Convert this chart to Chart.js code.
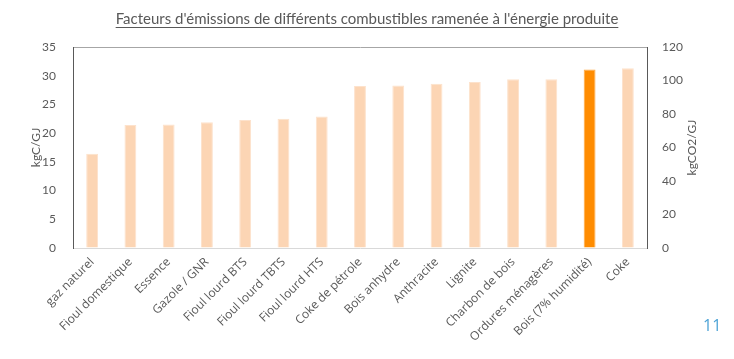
<!DOCTYPE html>
<html>
<head>
<meta charset="utf-8">
<script src="https://cdn.jsdelivr.net/npm/chart.js@4"></script>
<style>
  body { margin: 0; background: #fff; }
  #wrap { position: relative; width: 734px; height: 359px; }
  #page { position: absolute; left: 703px; top: 314px; font: 16px "Open Sans", sans-serif; color: #4da3d6; }
</style>
</head>
<body>
<div id="wrap">
  <canvas id="chart" width="734" height="359"></canvas>
  <div id="page">11</div>
</div>
<script>
// Fuels (x axis)
const categories = [
    "gaz naturel", "Fioul domestique", "Essence", "Gazole / GNR", "Fioul lourd BTS",
    "Fioul lourd TBTS", "Fioul lourd HTS", "Coke de pétrole", "Bois anhydre", "Anthracite",
    "Lignite", "Charbon de bois", "Ordures ménagères", "Bois (7% humidité)", "Coke"
];

// Emission factors, kgC/GJ (left axis)
const kgCperGJ = [16.4, 21.4, 21.5, 21.9, 22.3, 22.5, 22.9, 28.2, 28.3, 28.6, 28.9, 29.4, 29.4, 31.1, 31.3];

// Tick ranges for both axes
const leftTicks = [0, 5, 10, 15, 20, 25, 30, 35];
const rightTicks = [0, 20, 40, 60, 80, 100, 120];

// The one bar drawn in dark orange
const highlighted = "Bois (7% humidité)";

const grey = "#595959";
const rightTitle = "kgCO2/GJ";

// Underline under the chart title, and right axis title read bottom to top
const extras = {
    id: "extras",
    afterDraw(chart) {
        const tb = chart.titleBlock;
        const opts = chart.options.plugins.title;
        const ctx = chart.ctx;
        ctx.save();
        ctx.font = `${opts.font.size}px ${opts.font.family}`;
        const w = ctx.measureText(opts.text).width;
        const cx = (tb.left + tb.right) / 2;
        const y = tb.top + opts.padding.top + opts.font.size * 1.2 / 2 + opts.font.size * 0.5;
        ctx.strokeStyle = grey;
        ctx.lineWidth = 1;
        ctx.beginPath();
        ctx.moveTo(cx - w / 2, Math.round(y) + 0.5);
        ctx.lineTo(cx + w / 2, Math.round(y) + 0.5);
        ctx.stroke();

        const area = chart.chartArea;
        const y1 = chart.scales.y1;
        ctx.translate(y1.right - 42, (area.top + area.bottom) / 2);
        ctx.rotate(-Math.PI / 2);
        ctx.font = "12px Lato";
        ctx.fillStyle = grey;
        ctx.textAlign = "center";
        ctx.textBaseline = "middle";
        ctx.fillText(rightTitle, 0, 0);
        ctx.restore();
    }
};

const ctx = document.getElementById("chart").getContext("2d");

new Chart(ctx, {
    type: "bar",
    data: {
        labels: categories,
        datasets: [
            {
                data: kgCperGJ,
                yAxisID: "y",
                backgroundColor: categories.map((c) => (c === highlighted ? "#ff8c00" : "#fcd5b4")),
                borderColor: categories.map((c) => (c === highlighted ? "#ffa940" : "#fde2cc")),
                borderWidth: 1,
                categoryPercentage: 1,
                barPercentage: 0.31,
            },
        ],
    },
    options: {
        responsive: false,
        animation: false,
        layout: { padding: 0 },
        plugins: {
            legend: { display: false },
            tooltip: { enabled: false },
            title: {
                display: true,
                text: "Facteurs d'émissions de différents combustibles ramenée à l'énergie produite",
                color: grey,
                font: { size: 15, family: "Lato", weight: "normal" },
                padding: { top: 10, bottom: 19 },
            },
        },
        scales: {
            x: {
                grid: { display: false, drawTicks: false },
                border: { color: "#d9d9d9" },
                ticks: {
                    color: grey,
                    font: { size: 12, family: "'Open Sans'" },
                    minRotation: 45,
                    maxRotation: 45,
                    padding: 7,
                    autoSkip: false,
                },
                afterFit: (s) => { s.height = 111; },
            },
            y: {
                position: "left",
                min: leftTicks[0],
                max: leftTicks[leftTicks.length - 1],
                afterBuildTicks: (s) => { s.ticks = leftTicks.map((v) => ({ value: v })); },
                grid: {
                    drawTicks: false,
                    color: (c) => (c.tick && c.tick.value === 35 ? "#a6a6a6" : "rgba(0,0,0,0)"),
                },
                border: { color: grey },
                ticks: { color: grey, font: { size: 12, family: "Lato" }, padding: 17 },
                title: {
                    display: true,
                    text: "kgC/GJ",
                    color: grey,
                    font: { size: 12, family: "Lato" },
                    padding: { top: 29 },
                },
                afterFit: (s) => { s.width = 73; },
            },
            y1: {
                position: "right",
                min: rightTicks[0],
                max: rightTicks[rightTicks.length - 1],
                afterBuildTicks: (s) => { s.ticks = rightTicks.map((v) => ({ value: v })); },
                grid: { display: false, drawTicks: false },
                border: { color: grey },
                ticks: { color: grey, font: { size: 12, family: "Lato" }, padding: 15 },
                afterFit: (s) => { s.width = 87; },
            },
        },
    },
    plugins: [extras],
});
</script>
</body>
</html>
